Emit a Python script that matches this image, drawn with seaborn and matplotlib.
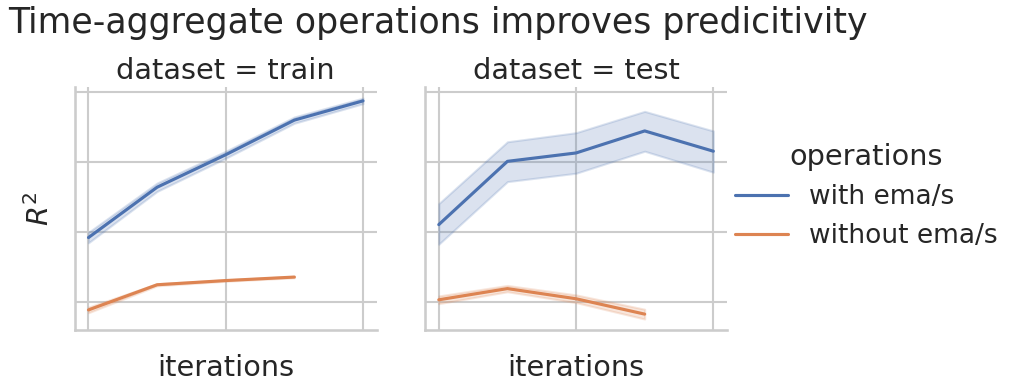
import numpy as np
import pandas as pd
import matplotlib
matplotlib.use("Agg")
import matplotlib.pyplot as plt
import seaborn as sns

# ---- data ----
datasets = ["train", "test"]
operations = ["with ema/s", "without ema/s"]

iterations_with = [0, 1, 2, 3, 4]
iterations_without = [0, 1, 2, 3]

train_with_mid = [0.383, 0.527, 0.620, 0.719, 0.774]
train_with_lo = [0.368, 0.515, 0.610, 0.710, 0.766]
train_with_hi = [0.398, 0.539, 0.630, 0.728, 0.782]

train_without_mid = [0.176, 0.248, 0.260, 0.270]
train_without_lo = [0.168, 0.245, 0.258, 0.268]
train_without_hi = [0.184, 0.251, 0.262, 0.272]

test_with_mid = [0.420, 0.601, 0.625, 0.688, 0.630]
test_with_lo = [0.364, 0.543, 0.567, 0.630, 0.570]
test_with_hi = [0.480, 0.657, 0.683, 0.744, 0.688]

test_without_mid = [0.205, 0.237, 0.208, 0.164]
test_without_lo = [0.194, 0.228, 0.197, 0.150]
test_without_hi = [0.216, 0.246, 0.219, 0.178]

series = {
    ("train", "with ema/s"): (iterations_with, train_with_lo, train_with_mid, train_with_hi),
    ("train", "without ema/s"): (iterations_without, train_without_lo, train_without_mid, train_without_hi),
    ("test", "with ema/s"): (iterations_with, test_with_lo, test_with_mid, test_with_hi),
    ("test", "without ema/s"): (iterations_without, test_without_lo, test_without_mid, test_without_hi),
}

rows = []
for (ds, op), (xs, lo, mid, hi) in series.items():
    for x, a, b, c in zip(xs, lo, mid, hi):
        for v in (a, b, c):
            rows.append({"dataset": ds, "operations": op, "iterations": x, "R2": v})
df = pd.DataFrame(rows)

sns.set_theme(context="talk", style="whitegrid", font_scale=1.15)

g = sns.relplot(
    data=df, x="iterations", y="R2", hue="operations", hue_order=operations,
    col="dataset", col_order=datasets, kind="line",
    estimator="median", errorbar=lambda v: (v.min(), v.max()),
    height=4, aspect=1,
)
fig = g.figure
fig.set_size_inches(10.24, 3.92)
fig.set_dpi(100)

g.set_titles("dataset = {col_name}")
g.set_axis_labels("iterations", "$R^2$")
for ax in g.axes.flat:
    ax.set_xticks([0, 2, 4])
    ax.set_yticks([0.2, 0.4, 0.6, 0.8])
    ax.set_xticklabels([])
    ax.set_yticklabels([])
    ax.tick_params(length=0)
    ax.xaxis.labelpad = 14
    ax.yaxis.labelpad = 11

fig.subplots_adjust(left=0.073, right=0.71, bottom=0.158, top=0.778, wspace=0.16)
sns.move_legend(g, "center left", bbox_to_anchor=(0.695, 0.5), frameon=False)

fig.suptitle("Time-aggregate operations improves predicitivity",
             x=0.008, y=0.985, ha="left", va="top", fontsize=25)

fig.savefig("out.png", dpi=100)
